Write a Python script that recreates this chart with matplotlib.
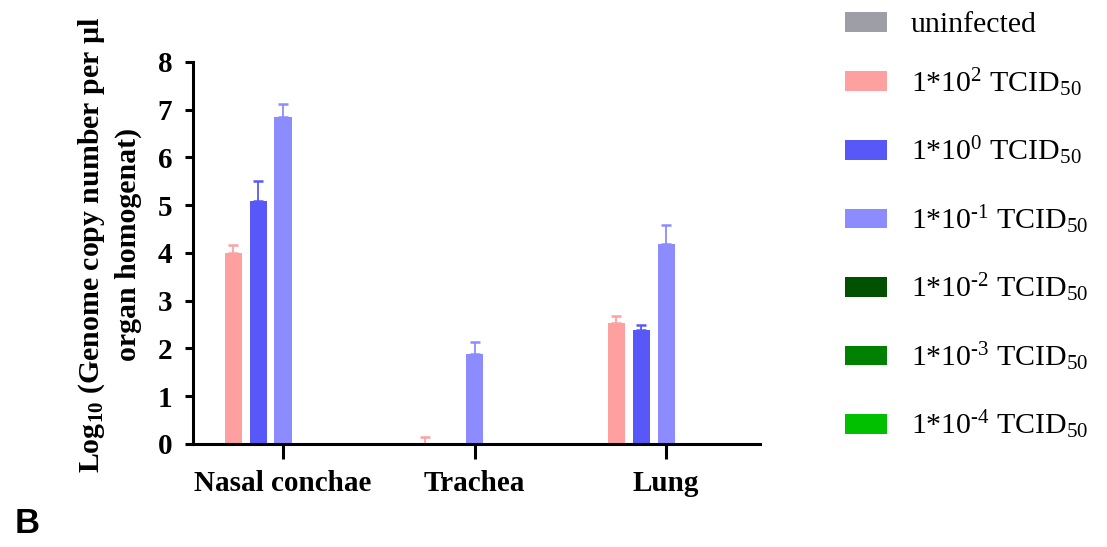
import numpy as np
import matplotlib
matplotlib.use("Agg")
from matplotlib import pyplot as plt

organs = ['Nasal conchae', 'Trachea', 'Lung']
labels = ['uninfected',
          '1*10$^{2}$ TCID$_{50}$',
          '1*10$^{0}$ TCID$_{50}$',
          '1*10$^{\\text{-}1}$ TCID$_{50}$',
          '1*10$^{\\text{-}2}$ TCID$_{50}$',
          '1*10$^{\\text{-}3}$ TCID$_{50}$',
          '1*10$^{\\text{-}4}$ TCID$_{50}$']
colors = ['#9e9ea6', '#ffa0a0', '#5858f8', '#8c8cff', '#005000', '#008000', '#00c000']

nan = np.nan
# mean log10 values per organ, one list per dose group
means = [
    [nan, nan, nan],      # uninfected
    [4.00, 0.00, 2.53],   # 1e2
    [5.09, nan, 2.38],    # 1e0
    [6.84, 1.89, 4.18],   # 1e-1
    [nan, nan, nan],      # 1e-2
    [nan, nan, nan],      # 1e-3
    [nan, nan, nan],      # 1e-4
]
# upper error (SD)
errors = [
    [nan, nan, nan],
    [0.16, 0.15, 0.16],
    [0.41, nan, 0.12],
    [0.29, 0.25, 0.41],
    [nan, nan, nan],
    [nan, nan, nan],
    [nan, nan, nan],
]

plt.rcParams['font.family'] = 'Liberation Serif'
plt.rcParams['mathtext.fontset'] = 'custom'
plt.rcParams['mathtext.rm'] = 'Liberation Serif'
plt.rcParams['mathtext.it'] = 'Liberation Serif:italic'
plt.rcParams['mathtext.bf'] = 'Liberation Serif:bold'

fig = plt.figure(figsize=(11.07, 5.47), dpi=100)
ax = fig.add_axes([0.1739, 0.1883, 0.6866 - 0.1739, 0.8867 - 0.1883])

x = np.arange(len(organs))
slot = 0.1305
width = 0.089
handles = []
for i in range(len(labels)):
    pos = x + (i - 3) * slot
    h = np.array(means[i], dtype=float)
    b = ax.bar(pos, np.nan_to_num(h), width, color=colors[i], label=labels[i], linewidth=0)
    handles.append(b)
    e = np.array(errors[i], dtype=float)
    ok = ~np.isnan(e) & ~np.isnan(h)
    if ok.any():
        ax.errorbar(pos[ok], h[ok], yerr=[np.zeros(ok.sum()), e[ok]], fmt='none',
                    ecolor=colors[i], elinewidth=1.3, capsize=3.4, capthick=1.8)

ax.set_xlim(-0.4726, 2.491)
ax.set_ylim(0, 8)
ax.set_yticks(range(9))
ax.set_xticks(x)
ax.set_xticklabels(organs, fontsize=21, fontweight='bold')
for t in ax.get_yticklabels():
    t.set_fontsize(21)
    t.set_fontweight('bold')
ax.spines['top'].set_visible(False)
ax.spines['right'].set_visible(False)
ax.spines['left'].set_linewidth(2.2)
ax.spines['bottom'].set_linewidth(2.2)
ax.tick_params(axis='y', width=2.2, length=5.5, pad=9)
ax.tick_params(axis='x', width=2.2, length=11, pad=8)

ax.set_ylabel('Log$_{\\mathbf{10}}$ (Genome copy number per µl\norgan homogenat)',
              fontsize=21.5, fontweight='bold', linespacing=1.35)
ax.yaxis.set_label_coords(-0.089, 0.522)

leg_kw = dict(loc='upper left', frameon=False, fontsize=21.5, handlelength=1.4,
              handleheight=0.64, handletextpad=0.8, labelspacing=1.2,
              borderpad=0, borderaxespad=0)
fig.legend(handles=handles[:1], labels=labels[:1],
           bbox_to_anchor=(845 / 1107, 1 - 12 / 547), **leg_kw)
fig.legend(handles=handles[1:], labels=labels[1:],
           bbox_to_anchor=(845 / 1107, 1 - 66 / 547), **leg_kw)

fig.text(0.013, 0.025, 'B', fontsize=25, fontweight='bold', family='Liberation Sans')

fig.savefig('out.png', dpi=100)
